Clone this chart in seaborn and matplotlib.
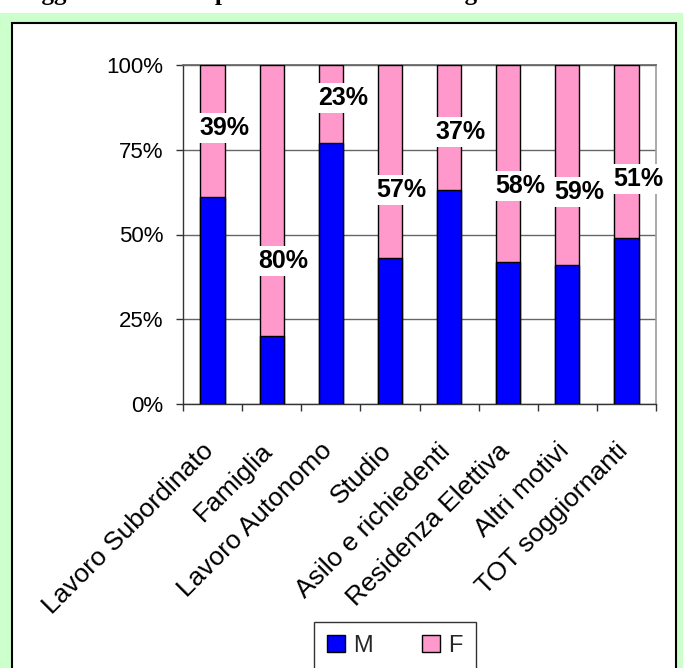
import matplotlib
matplotlib.use("Agg")
import matplotlib.pyplot as plt
from matplotlib.patches import Rectangle, Patch
from matplotlib.ticker import FixedLocator
from matplotlib.transforms import ScaledTranslation
import numpy as np
import pandas as pd
import seaborn as sns

# Quote di genere per motivo del permesso (%)
categorie = ["Lavoro Subordinato", "Famiglia", "Lavoro Autonomo", "Studio",
             "Asilo e richiedenti", "Residenza Elettiva", "Altri motivi",
             "TOT soggiornanti"]
quota_m = [61, 20, 77, 43, 63, 42, 41, 49]
quota_f = [39, 80, 23, 57, 37, 58, 59, 51]
etichette_f = ["39%", "80%", "23%", "57%", "37%", "58%", "59%", "51%"]
tick_y = [0, 25, 50, 75, 100]
tick_y_label = ["0%", "25%", "50%", "75%", "100%"]

# altezza (in %) a cui sono centrate le etichette delle femmine
altezza_etichette = [81.4, 42.2, 90.3, 63.0, 80.3, 64.4, 62.5, 66.4]

BLU = "#0000FF"
ROSA = "#FF99CC"
VERDE = "#CCFFCC"

sns.set_theme(style="white")
plt.rcParams["font.family"] = ["Liberation Sans", "DejaVu Sans"]

W, H = 683, 668
fig = plt.figure(figsize=(W / 100, H / 100), dpi=100)
fig.patch.set_facecolor("white")

# sfondo verde e pannello bianco del grafico
fig.patches.append(Rectangle((0, 0), 1, 1 - 13 / H, transform=fig.transFigure,
                             facecolor=VERDE, edgecolor="none", zorder=-3))
fig.patches.append(Rectangle((12 / W, -0.05), (676 - 12) / W, 1.05 - 23 / H,
                             transform=fig.transFigure, facecolor="white",
                             edgecolor="black", linewidth=1.5, zorder=-2))

# titolo (tagliato al bordo superiore)
fig.text(15 / W, 1.0, "Soggiornanti 2007 per motivo di rilascio e genere",
         family=["Liberation Serif", "DejaVu Serif"], fontweight="bold",
         fontsize=18, va="baseline", ha="left", color="black")

ax = fig.add_axes([183 / W, 1 - 404 / H, (656 - 183) / W, (404 - 65) / H])
ax.set_facecolor("white")

df = pd.DataFrame({"motivo": categorie, "M": quota_m, "F": quota_f})
df["totale"] = df["M"] + df["F"]

sns.barplot(data=df, x="motivo", y="totale", color=ROSA, saturation=1,
            width=0.41, edgecolor="black", linewidth=1.0, ax=ax, zorder=3)
sns.barplot(data=df, x="motivo", y="M", color=BLU, saturation=1,
            width=0.41, edgecolor="black", linewidth=1.0, ax=ax, zorder=4)

ax.set_xlim(-0.5, len(categorie) - 0.5)
ax.set_ylim(0, 100)
ax.set_xlabel("")
ax.set_ylabel("")

ax.set_yticks(tick_y)
ax.set_yticklabels(tick_y_label, fontsize=16, color="black")
ax.yaxis.grid(True, color="#666666", linewidth=1.0, zorder=0)
ax.set_axisbelow(True)
ax.tick_params(axis="y", which="major", direction="out", length=5, width=1,
               color="#333333", pad=9, left=True)

ax.set_xticks(range(len(categorie)))
ax.set_xticklabels(categorie, rotation=45, ha="right", rotation_mode="anchor",
                   fontsize=19, color="black")
ax.tick_params(axis="x", which="major", length=0, pad=25)
ax.xaxis.set_minor_locator(FixedLocator(np.arange(-0.5, len(categorie), 1.0)))
ax.tick_params(axis="x", which="minor", direction="out", length=5, width=1,
               color="#333333", bottom=True)
sposta = ScaledTranslation(-11 / 100, 0, fig.dpi_scale_trans)
for lab in ax.get_xticklabels():
    lab.set_transform(lab.get_transform() + sposta)

for lato in ["left", "bottom"]:
    ax.spines[lato].set_color("#333333")
    ax.spines[lato].set_linewidth(1.0)
ax.spines["top"].set_color("#666666")
ax.spines["right"].set_color("#a0a0a0")

# etichette con la quota femminile
for i, (testo, h) in enumerate(zip(etichette_f, altezza_etichette)):
    ax.text(i + 0.2, h, testo, ha="center", va="center", fontsize=18,
            fontweight="bold", color="black", zorder=6,
            bbox=dict(boxstyle="square,pad=0.12", facecolor="white",
                      edgecolor="none"))

handles = [Patch(facecolor=BLU, edgecolor="black", linewidth=1.0, label="M"),
           Patch(facecolor=ROSA, edgecolor="black", linewidth=1.0, label="F")]
leg = fig.legend(handles=handles, loc="upper left",
                 bbox_to_anchor=(314 / W, 1 - 622 / H), ncol=2, fontsize=17,
                 frameon=True, fancybox=False, handlelength=0.75,
                 handleheight=0.75, handletextpad=0.35, columnspacing=2.1,
                 borderpad=0.55, borderaxespad=0)
leg.get_frame().set_edgecolor("black")
leg.get_frame().set_linewidth(1.0)

fig.savefig("out.png", dpi=100, facecolor=fig.get_facecolor())
